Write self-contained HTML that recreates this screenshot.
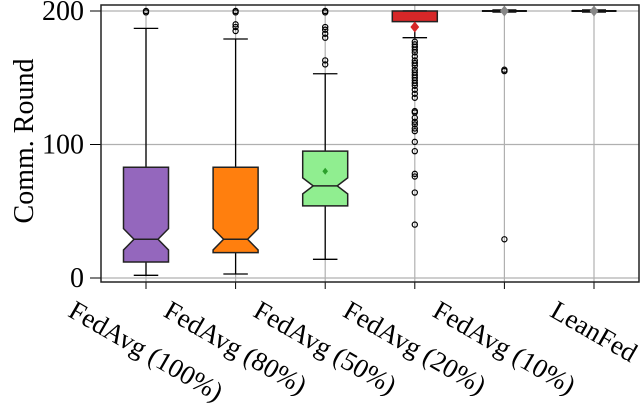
<!DOCTYPE html>
<html><head><meta charset="utf-8"><style>
body{margin:0;background:#fff}
svg{display:block;font-family:"Liberation Serif",serif}
</style></head><body>
<svg id="chart" width="640" height="414" viewBox="0 0 640 414" xmlns="http://www.w3.org/2000/svg"></svg>
<script>
const categories=["FedAvg (100%)","FedAvg (80%)","FedAvg (50%)","FedAvg (20%)","FedAvg (10%)","LeanFed"];
const colors=["#9467bd","#ff7f0e","#90ee90","#d62728","#888888","#888888"];
const q1=[12,19,54,192,200,200];
const q3=[83,83,95,200,200,200];
const medians=[29,29,69,200,200,200];
const notchLo=[21,21,63,200,200,200];
const notchHi=[37,37,75,200,200,200];
const whiskLo=[2,3,14,180,200,200];
const whiskHi=[187,179,153,200,200,200];
const means=[null,null,80,188,200,200];
const outliers=[[199,200],[185,188,190,199,200],[160,163,180,183,186,188,199,200],
[177,175,173,171,169,166,163,161,159,156,154,152,150,148,146,144,141,138,135,125,124,120,117,115,112,110,102,95,78,76,64,40],
[155,156,29],[]];
const yTicks=[0,100,200];

const svg=document.getElementById('chart');const NS="http://www.w3.org/2000/svg";
const L=101,R=639,T=5,B=282;
const y=v=>278-v*(267/200);
const x=i=>146+i*89.6;
function mk(tag,attrs,parent){const e=document.createElementNS(NS,tag);for(const k in attrs)e.setAttribute(k,attrs[k]);(parent||svg).appendChild(e);return e;}
yTicks.forEach(t=>{
 const g=mk('line',{x1:L,x2:R,y1:y(t),y2:y(t),stroke:'#b0b0b0','stroke-width':1.2});
 
 
 const tk=mk('line',{x1:90,x2:L,y1:y(t),y2:y(t),stroke:'#000','stroke-width':1});
 
 
 const tx=mk('text',{x:84,y:y(t)+9,'text-anchor':'end','font-size':28});
 tx.textContent=t;
 
 
});
categories.forEach((c,i)=>{
 const g=mk('line',{x1:x(i),x2:x(i),y1:T,y2:B,stroke:'#b0b0b0','stroke-width':1.2});
 
 
 const tk=mk('line',{x1:x(i),x2:x(i),y1:B,y2:289,stroke:'#000','stroke-width':1});
 
 
});
const fr=mk('rect',{x:L,y:T,width:R-L,height:B-T,fill:'none',stroke:'#222','stroke-width':1.5});


const hw=22.5,nw=12;
categories.forEach((c,i)=>{
 const g=mk('g',{});
 
 
 const cx=x(i);
 mk('line',{x1:cx,x2:cx,y1:y(q3[i]),y2:y(whiskHi[i]),stroke:'#000','stroke-width':1.3},g);
 mk('line',{x1:cx,x2:cx,y1:y(q1[i]),y2:y(whiskLo[i]),stroke:'#000','stroke-width':1.3},g);
 mk('line',{x1:cx-hw/2-1,x2:cx+hw/2+1,y1:y(whiskHi[i]),y2:y(whiskHi[i]),stroke:'#000','stroke-width':1.3},g);
 mk('line',{x1:cx-hw/2-1,x2:cx+hw/2+1,y1:y(whiskLo[i]),y2:y(whiskLo[i]),stroke:'#000','stroke-width':1.3},g);
 if(q3[i]-q1[i]>0){
  const pts=[[cx-hw,y(q1[i])],[cx-hw,y(notchLo[i])],[cx-nw,y(medians[i])],[cx-hw,y(notchHi[i])],[cx-hw,y(q3[i])],
   [cx+hw,y(q3[i])],[cx+hw,y(notchHi[i])],[cx+nw,y(medians[i])],[cx+hw,y(notchLo[i])],[cx+hw,y(q1[i])]];
  mk('polygon',{points:pts.map(p=>p.join(',')).join(' '),fill:colors[i],stroke:'#222','stroke-width':1.5},g);
  mk('line',{x1:cx-nw,x2:cx+nw,y1:y(medians[i]),y2:y(medians[i]),stroke:'#222','stroke-width':1.5},g);
 } else {
  mk('line',{x1:cx-hw,x2:cx+hw,y1:y(q1[i]),y2:y(q1[i]),stroke:'#111','stroke-width':2},g);
  mk('line',{x1:cx-nw,x2:cx+nw,y1:y(q1[i]),y2:y(q1[i]),stroke:'#111','stroke-width':3.5},g);
 }
 outliers[i].forEach(v=>{
  const o=mk('circle',{cx:cx,cy:y(v),r:2.6,fill:'none',stroke:'#000','stroke-width':1.2},g);
  
  
 });
 if(means[i]!==null){
  const my=y(means[i]);const s=i==2?3.5:5.5;
  const mc=i==2?'#2ca02c':(i==3?'#d62728':'#888');
  const m=mk('polygon',{points:`${cx},${my-s} ${cx+s*0.8},${my} ${cx},${my+s} ${cx-s*0.8},${my}`,fill:mc},g);
  
  
 }
 const t=mk('text',{'font-size':27,'text-anchor':'middle'});
 t.textContent=c;
 
 
 const len=t.getComputedTextLength();
 const h=(len*0.5+27*0.866);
 const cy=296+h/2;
 t.setAttribute('x',cx);t.setAttribute('y',cy+9);
 t.setAttribute('transform',`rotate(30 ${cx} ${cy})`);
});
const yl=mk('text',{x:0,y:0,'font-size':28,'text-anchor':'middle',transform:'translate(33 141) rotate(-90)'});
yl.textContent='Comm. Round';


</script>
</body></html>
